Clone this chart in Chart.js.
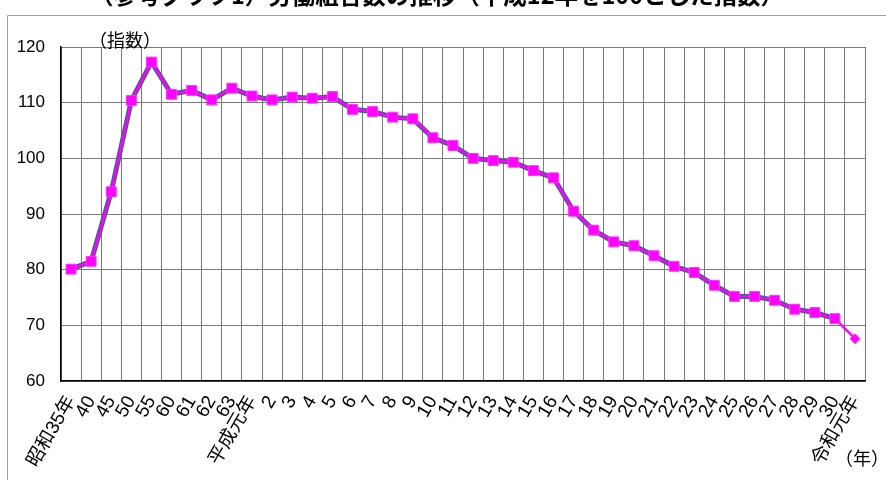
<!DOCTYPE html>
<html>
<head>
<meta charset="utf-8">
<style>
  html, body { margin: 0; padding: 0; background: #fff; }
  #wrap { position: relative; width: 886px; height: 480px; }
</style>
</head>
<body>
<div id="wrap"><canvas id="unionChart" width="886" height="480"></canvas></div>

<script src="https://cdn.jsdelivr.net/npm/chart.js"></script>
<script>
// 年次ラベル
const categories = [
  '昭和35年', '40', '45', '50', '55', '60', '61', '62', '63',
  '平成元年', '2', '3', '4', '5', '6', '7', '8', '9', '10',
  '11', '12', '13', '14', '15', '16', '17', '18', '19', '20',
  '21', '22', '23', '24', '25', '26', '27', '28', '29', '30',
  '令和元年'
];

// 指数（平成12年=100）
const indexValues = [
  80.1, 81.5, 94.0, 110.4, 117.3, 111.5, 112.2, 110.5, 112.6,
  111.2, 110.5, 111.0, 110.8, 111.1, 108.8, 108.4, 107.4, 107.1, 103.7,
  102.3, 100.0, 99.6, 99.3, 97.8, 96.5, 90.5, 87.1, 85.0, 84.3,
  82.5, 80.6, 79.5, 77.2, 75.2, 75.2, 74.5, 72.9, 72.3, 71.2,
  67.6
];

// 旧系列（平成30年まで）
const oldSeriesValues = [
  80.1, 81.5, 94.0, 110.4, 117.3, 111.5, 112.2, 110.5, 112.6,
  111.2, 110.5, 111.0, 110.8, 111.1, 108.8, 108.4, 107.4, 107.1, 103.7,
  102.3, 100.0, 99.6, 99.3, 97.8, 96.5, 90.5, 87.1, 85.0, 84.3,
  82.5, 80.6, 79.5, 77.2, 75.2, 75.2, 74.5, 72.9, 72.3, 71.2
];

const yTicks = [60, 70, 80, 90, 100, 110, 120];

const FONT = "'Liberation Sans', 'Noto Sans CJK JP', sans-serif";
const lastIdx = indexValues.length - 1;

// タイトル・単位・外枠
const decorations = {
  id: 'decorations',
  afterDraw(chart) {
    const c = chart.ctx;
    c.save();
    c.strokeStyle = '#a0a0a0';
    c.lineWidth = 1;
    c.beginPath();
    c.moveTo(7.5, 480);
    c.lineTo(7.5, 15.5);
    c.lineTo(886, 15.5);
    c.stroke();

    c.fillStyle = '#000';
    c.textBaseline = 'alphabetic';
    c.textAlign = 'center';
    c.font = "bold 23.5px 'Noto Sans CJK JP', sans-serif";
    c.fillText('（参考グラフ1）労働組合数の推移（平成12年を100とした指数）', 437, 4);

    c.font = "18px 'Noto Sans CJK JP', sans-serif";
    c.textBaseline = 'middle';
    c.textAlign = 'left';
    c.fillText('（指数）', 89, 40);
    c.textAlign = 'center';
    c.fillText('（年）', 862, 458);
    c.restore();
  }
};

const ctx = document.getElementById('unionChart').getContext('2d');
new Chart(ctx, {
  type: 'line',
  data: {
    labels: categories,
    datasets: [
      {
        label: '労働組合数指数',
        data: indexValues,
        borderColor: '#ff00ff',
        borderWidth: 2.5,
        backgroundColor: '#ff00ff',
        pointBackgroundColor: '#ff00ff',
        pointBorderColor: '#ff33ff',
        pointBorderWidth: 1,
        pointStyle: (c) => c.dataIndex === lastIdx ? 'rectRot' : 'rect',
        pointRadius: (c) => c.dataIndex === lastIdx ? 5 : 7,
        tension: 0,
        order: 1
      },
      {
        label: '旧系列',
        data: oldSeriesValues,
        borderColor: '#3d6189',
        borderWidth: 5,
        pointRadius: 0,
        tension: 0,
        order: 2
      }
    ]
  },
  options: {
    responsive: false,
    animation: false,
    layout: { padding: { left: 0, right: 18, top: 47, bottom: 0 } },
    plugins: {
      legend: { display: false },
      title: { display: false },
      tooltip: { enabled: false }
    },
    scales: {
      x: {
        offset: true,
        afterFit(scale) { scale.height = 99; },
        grid: {
          offset: true,
          drawTicks: false,
          color: (c) => c.index === categories.length ? '#cccccc' : '#7a7a7a',
          lineWidth: (c) => c.index === categories.length ? 2 : 1
        },
        border: { color: '#000', width: 1.5 },
        ticks: {
          autoSkip: false,
          minRotation: 60,
          maxRotation: 60,
          padding: 11,
          color: '#000',
          font: { family: FONT, size: 19 }
        }
      },
      y: {
        min: 60,
        max: 120,
        afterFit(scale) { scale.width = 61; },
        afterBuildTicks(scale) { scale.ticks = yTicks.map(v => ({ value: v })); },
        grid: { drawTicks: false, color: '#7a7a7a', lineWidth: 1 },
        border: { color: '#000', width: 1.5 },
        ticks: {
          padding: 16,
          color: '#000',
          font: { family: FONT, size: 17 }
        }
      }
    }
  },
  plugins: [decorations]
});
</script>
</body>
</html>
